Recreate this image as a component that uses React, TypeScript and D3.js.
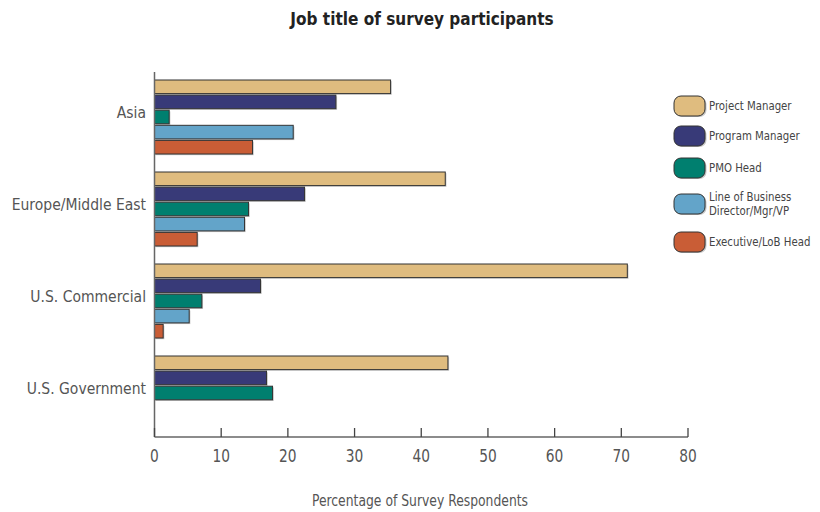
import React from "react";
import * as d3 from "d3";

const regions = ["Asia", "Europe/Middle East", "U.S. Commercial", "U.S. Government"];
const roles = [
  "Project Manager",
  "Program Manager",
  "PMO Head",
  "Line of Business Director/Mgr/VP",
  "Executive/LoB Head",
];
const legendLines = [
  ["Project Manager"],
  ["Program Manager"],
  ["PMO Head"],
  ["Line of Business", "Director/Mgr/VP"],
  ["Executive/LoB Head"],
];
const roleColors = ["#dfbc7f", "#383a78", "#007f6f", "#63a4c9", "#c95d36"];

// percentage of respondents per role, one array per region
const asia = [35.4, 27.2, 2.2, 20.8, 14.7];
const europeMiddleEast = [43.6, 22.5, 14.1, 13.5, 6.4];
const usCommercial = [70.9, 15.9, 7.1, 5.2, 1.3];
const usGovernment = [44.0, 16.8, 17.7, 0, 0];
const regionValues = [asia, europeMiddleEast, usCommercial, usGovernment];

const xTicks = [0, 10, 20, 30, 40, 50, 60, 70, 80];

const FONT = "'DejaVu Sans Condensed', 'Liberation Sans Narrow', sans-serif";

// text squeezed horizontally for a narrow, condensed look
function NarrowText(props: {
  x: number;
  y: number;
  sx: number;
  size: number;
  anchor?: "start" | "middle" | "end";
  fill: string;
  bold?: boolean;
  children: React.ReactNode;
}) {
  const { x, y, sx, size, anchor = "start", fill, bold, children } = props;
  return (
    <g transform={`translate(${x},${y}) scale(${sx},1)`}>
      <text
        textAnchor={anchor}
        dominantBaseline="middle"
        fontSize={size}
        fontWeight={bold ? "bold" : "normal"}
        fill={fill}
      >
        {children}
      </text>
    </g>
  );
}

export default function App() {
  const width = 820;
  const height = 512;
  const left = 154.5;
  const right = 688;
  const top = 72;
  const bottom = 437;

  const x = d3.scaleLinear().domain([0, 80]).range([left, right]);
  const y = d3.scaleBand<string>().domain(regions).range([top, top + 92 * 4]);
  const yInner = d3
    .scaleBand<string>()
    .domain(roles)
    .range([8, 8 + 14.8 * 5])
    .paddingInner(0.1);

  const legendY = [106, 136, 168, 204, 242];

  return (
    <svg
      width={width}
      height={height}
      style={{ position: "absolute", left: 0, top: 0, background: "#fff" }}
      fontFamily={FONT}
    >
      <NarrowText x={422} y={20} sx={0.92} size={18.5} anchor="middle" fill="#222" bold>
        Job title of survey participants
      </NarrowText>

      {/* bars */}
      {regions.map((r, gi) => (
        <g key={r} transform={`translate(0,${y(r)})`}>
          {roles.map((role, si) => {
            const v = regionValues[gi][si];
            if (v <= 0) return null;
            const by = yInner(role)!;
            const bh = yInner.bandwidth();
            const bw = x(v) - x(0);
            return (
              <g key={role}>
                <rect x={x(0) + 1.2} y={by + 1.2} width={bw} height={bh} fill="#c8c8c8" />
                <rect
                  x={x(0)}
                  y={by}
                  width={bw}
                  height={bh}
                  fill={roleColors[si]}
                  stroke="#333"
                  strokeWidth={1}
                />
              </g>
            );
          })}
          <NarrowText x={146} y={41} sx={0.94} size={16.5} anchor="end" fill="#555">
            {r}
          </NarrowText>
        </g>
      ))}

      {/* axes */}
      <line x1={left} x2={left} y1={top} y2={bottom} stroke="#666" strokeWidth={1.5} />
      <line x1={left} x2={right} y1={bottom} y2={bottom} stroke="#666" strokeWidth={1.5} />
      {xTicks.map((t) => (
        <g key={t}>
          <line x1={x(t)} x2={x(t)} y1={bottom} y2={bottom - 9} stroke="#444" strokeWidth={1.3} />
          <NarrowText x={x(t)} y={457} sx={0.9} size={17} anchor="middle" fill="#555">
            {t}
          </NarrowText>
        </g>
      ))}
      <NarrowText x={420} y={502} sx={0.86} size={16} anchor="middle" fill="#555">
        Percentage of Survey Respondents
      </NarrowText>

      {/* legend */}
      {legendLines.map((lines, i) => (
        <g key={i}>
          <rect x={675.5} y={legendY[i] - 9} width={31} height={20} rx={7} fill="#c8c8c8" />
          <rect
            x={674}
            y={legendY[i] - 10}
            width={31}
            height={20}
            rx={7}
            fill={roleColors[i]}
            stroke="#333"
            strokeWidth={1}
          />
          {lines.map((ln, li) => (
            <NarrowText
              key={li}
              x={709}
              y={legendY[i] - (lines.length - 1) * 7 + li * 14}
              sx={0.87}
              size={13}
              fill="#444"
            >
              {ln}
            </NarrowText>
          ))}
        </g>
      ))}
    </svg>
  );
}
